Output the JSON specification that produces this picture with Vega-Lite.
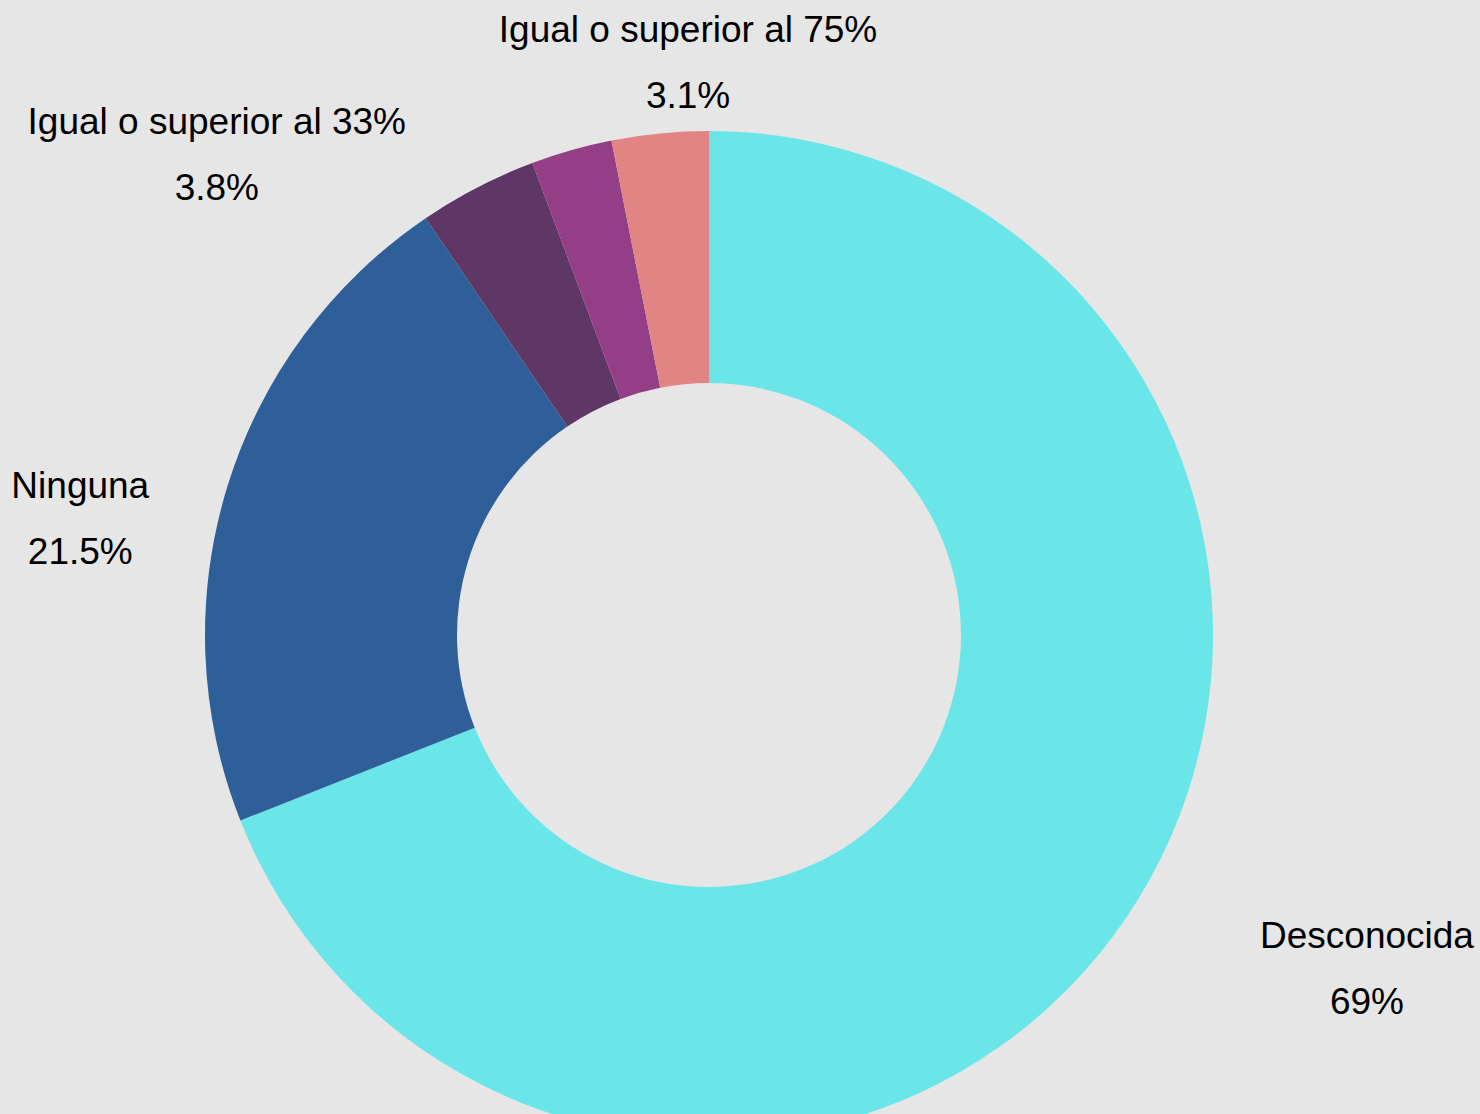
{
  "$schema": "https://vega.github.io/schema/vega-lite/v6.json",
  "autosize": {"type": "none"},
  "width": 1418,
  "height": 958,
  "padding": {"left": 0, "top": 156, "right": 62, "bottom": 0},
  "background": "#e6e6e6",
  "view": {"stroke": null},
  "data": {
    "values": [
      {"categoria": "Desconocida", "porcentaje": 69, "orden": 1},
      {"categoria": "Ninguna", "porcentaje": 21.5, "orden": 2},
      {"categoria": "Igual o superior al 33%", "porcentaje": 3.8, "orden": 3},
      {"categoria": "Igual o superior al 65%", "porcentaje": 2.6, "orden": 4},
      {"categoria": "Igual o superior al 75%", "porcentaje": 3.1, "orden": 5}
    ]
  },
  "transform": [
    {"window": [{"op": "sum", "field": "porcentaje", "as": "acum"}], "sort": [{"field": "orden", "order": "ascending"}], "frame": [null, 0]},
    {"calculate": "datum.acum - datum.porcentaje / 2", "as": "medio"},
    {"calculate": "[datum.categoria, datum.porcentaje + '%']", "as": "etiqueta"}
  ],
  "layer": [
    {
      "mark": {"type": "arc", "outerRadius": 504, "innerRadius": 252, "strokeWidth": 0},
      "encoding": {
        "theta": {"field": "porcentaje", "type": "quantitative", "stack": true, "scale": {"domain": [0, 100]}},
        "order": {"field": "orden", "type": "quantitative", "sort": "ascending"},
        "color": {
          "field": "categoria",
          "type": "nominal",
          "legend": null,
          "scale": {
            "domain": ["Desconocida", "Ninguna", "Igual o superior al 33%", "Igual o superior al 65%", "Igual o superior al 75%"],
            "range": ["#6ae5e8", "#2e5f98", "#5e3766", "#953e88", "#e18584"]
          }
        }
      }
    },
    {
      "transform": [{"filter": "datum.categoria === 'Igual o superior al 75%'"}],
      "mark": {"type": "text", "radius": 596, "dx": 37, "dy": 0, "font": "Liberation Sans", "fontSize": 37, "lineHeight": 66, "align": "center", "baseline": "alphabetic", "color": "#000000"},
      "encoding": {
        "theta": {"field": "medio", "type": "quantitative", "stack": null, "scale": {"domain": [0, 100]}},
        "text": {"field": "etiqueta"}
      }
    },
    {
      "transform": [{"filter": "datum.categoria === 'Igual o superior al 33%'"}],
      "mark": {"type": "text", "radius": 564, "dx": -233, "dy": 0, "font": "Liberation Sans", "fontSize": 37, "lineHeight": 66, "align": "center", "baseline": "alphabetic", "color": "#000000"},
      "encoding": {
        "theta": {"field": "medio", "type": "quantitative", "stack": null, "scale": {"domain": [0, 100]}},
        "text": {"field": "etiqueta"}
      }
    },
    {
      "transform": [{"filter": "datum.categoria === 'Ninguna'"}],
      "mark": {"type": "text", "radius": 640, "dx": -17, "dy": 51, "font": "Liberation Sans", "fontSize": 37, "lineHeight": 66, "align": "center", "baseline": "alphabetic", "color": "#000000"},
      "encoding": {
        "theta": {"field": "medio", "type": "quantitative", "stack": null, "scale": {"domain": [0, 100]}},
        "text": {"field": "etiqueta"}
      }
    },
    {
      "transform": [{"filter": "datum.categoria === 'Desconocida'"}],
      "mark": {"type": "text", "radius": 700, "dx": 79, "dy": -80, "font": "Liberation Sans", "fontSize": 37, "lineHeight": 66, "align": "center", "baseline": "alphabetic", "color": "#000000"},
      "encoding": {
        "theta": {"field": "medio", "type": "quantitative", "stack": null, "scale": {"domain": [0, 100]}},
        "text": {"field": "etiqueta"}
      }
    }
  ]
}
